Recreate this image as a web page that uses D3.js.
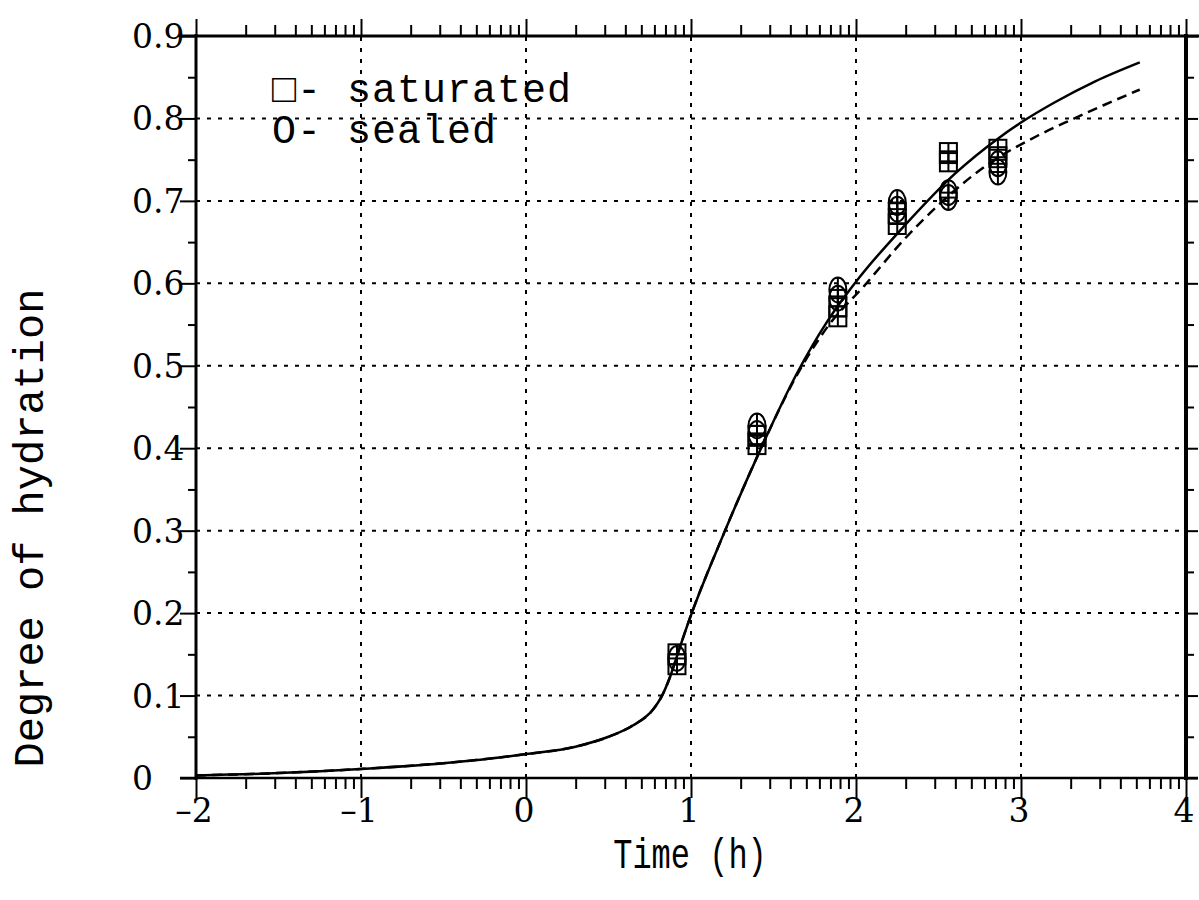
<!DOCTYPE html>
<html>
<head>
<meta charset="utf-8"/>
<title>Degree of hydration</title>
<script src="https://d3js.org/d3.v7.min.js"></script>
<style>
  body { margin: 0; background: #fff; }
  svg { display: block; }
  .num { font-family: "DejaVu Serif", serif; font-size: 33px; fill: #000; }
  .lbl { font-family: "Liberation Mono", monospace; fill: #000; }
  .axis path { display: none; }
  .axis line { stroke: #000; stroke-width: 2; }
</style>
</head>
<body>
<div id="chart"></div>
<script>
// ---- data ----
var xTicks = [-2, -1, 0, 1, 2, 3, 4];
var xTickLabels = ["\u20132", "\u20131", "0", "1", "2", "3", "4"];
var yTicks = [0, 0.1, 0.2, 0.3, 0.4, 0.5, 0.6, 0.7, 0.8, 0.9];
var yTickLabels = ["0", "0.1", "0.2", "0.3", "0.4", "0.5", "0.6", "0.7", "0.8", "0.9"];

// solid curve (model, saturated)
var solidX = [-2.0, -1.5, -1.0, -0.5, 0.0, 0.3, 0.5, 0.65, 0.77, 0.82, 0.87, 0.93, 0.99,
              1.2, 1.42, 1.64, 1.83, 2.02, 2.29, 2.6, 2.87, 3.0, 3.2, 3.45, 3.72];
var solidY = [0.003, 0.006, 0.011, 0.018, 0.029, 0.038, 0.050, 0.064, 0.083, 0.098, 0.121, 0.157, 0.192,
              0.297, 0.398, 0.49, 0.555, 0.607, 0.669, 0.733, 0.777, 0.795, 0.819, 0.845, 0.868];
// dashed curve (model, sealed), equal to solid below ~1.6
var dashX = [-2.0, -1.5, -1.0, -0.5, 0.0, 0.3, 0.5, 0.65, 0.77, 0.82, 0.87, 0.93, 0.99,
             1.2, 1.42, 1.64, 1.83, 2.05, 2.3, 2.5, 2.79, 3.1, 3.3, 3.5, 3.72];
var dashY = [0.003, 0.006, 0.011, 0.018, 0.029, 0.038, 0.050, 0.064, 0.083, 0.098, 0.121, 0.157, 0.192,
             0.297, 0.398, 0.488, 0.548, 0.597, 0.655, 0.695, 0.743, 0.779, 0.798, 0.816, 0.835];

// measured points
var satX = [0.915, 0.915, 1.40, 1.40, 1.89, 1.89, 2.25, 2.25, 2.56, 2.56, 2.86, 2.86];
var satY = [0.138, 0.150, 0.405, 0.415, 0.560, 0.572, 0.672, 0.685, 0.748, 0.758, 0.753, 0.762];
var sealX = [0.915, 1.40, 1.40, 1.89, 1.89, 2.25, 2.25, 2.56, 2.56, 2.86, 2.86];
var sealY = [0.145, 0.418, 0.427, 0.582, 0.592, 0.690, 0.698, 0.704, 0.710, 0.735, 0.745];

var legendLabels = ["\u25A1- saturated", "O- sealed"];

// ---- drawing ----
var W = 1199, H = 900;
var svg = d3.select("#chart").append("svg").attr("width", W).attr("height", H);

var x = d3.scaleLinear().domain([-2, 4]).range([196, 1186]);
var y = d3.scaleLinear().domain([0, 0.9]).range([778, 36]);

// log minor ticks inside every decade
var xMinor = [];
for (var n = -2; n < 4; n++) {
  for (var k = 2; k <= 9; k++) xMinor.push(n + Math.log10(k));
}
var yMinor = d3.range(0.05, 0.9, 0.1);

// grid
var grid = svg.append("g").attr("stroke", "#000").attr("stroke-width", 2)
  .attr("stroke-dasharray", "4,7");
grid.selectAll(".gx").data(xTicks.slice(1, -1)).enter().append("line")
  .attr("x1", d => x(d)).attr("x2", d => x(d))
  .attr("y1", y(0)).attr("y2", y(0.9));
grid.selectAll(".gy").data(yTicks.slice(1, -1)).enter().append("line")
  .attr("x1", x(-2)).attr("x2", x(4))
  .attr("y1", d => y(d)).attr("y2", d => y(d));

// ticks via axes
function ticks(axisFn, scale, vals, size, tr) {
  svg.append("g").attr("class", "axis").attr("transform", tr)
    .call(axisFn(scale).tickValues(vals).tickSize(size).tickFormat(""));
}
ticks(d3.axisBottom, x, xTicks, 20, "translate(0," + y(0) + ")");
ticks(d3.axisBottom, x, xMinor, 11, "translate(0," + y(0) + ")");
ticks(d3.axisTop, x, xTicks, 17, "translate(0," + y(0.9) + ")");
ticks(d3.axisTop, x, xMinor, 11, "translate(0," + y(0.9) + ")");
ticks(d3.axisLeft, y, yTicks, 16, "translate(" + x(-2) + ",0)");
ticks(d3.axisLeft, y, yMinor, 8, "translate(" + x(-2) + ",0)");
ticks(d3.axisRight, y, yTicks, 12, "translate(" + x(4) + ",0)");
ticks(d3.axisRight, y, yMinor, 8, "translate(" + x(4) + ",0)");

// frame
svg.append("line").attr("x1", x(-2)).attr("x2", x(-2)).attr("y1", y(0.9) - 2).attr("y2", y(0) + 2)
  .attr("stroke", "#000").attr("stroke-width", 3);
svg.append("line").attr("x1", x(4)).attr("x2", x(4)).attr("y1", y(0.9) - 2).attr("y2", y(0) + 2)
  .attr("stroke", "#000").attr("stroke-width", 4);
svg.append("line").attr("x1", x(-2) - 16).attr("x2", W).attr("y1", y(0.9)).attr("y2", y(0.9))
  .attr("stroke", "#000").attr("stroke-width", 3);
svg.append("line").attr("x1", x(-2) - 16).attr("x2", x(4) + 12).attr("y1", y(0)).attr("y2", y(0))
  .attr("stroke", "#000").attr("stroke-width", 2.5);

// tick labels
svg.selectAll(".xl").data(xTicks).enter().append("text").attr("class", "num")
  .attr("x", d => x(d) - 2).attr("y", 822).attr("text-anchor", "middle")
  .text((d, i) => xTickLabels[i]);
svg.selectAll(".yl").data(yTicks).enter().append("text").attr("class", "num")
  .attr("x", 132).attr("y", d => y(d) + 12).attr("text-anchor", "start")
  .text((d, i) => yTickLabels[i]);

// axis titles
svg.append("text").attr("class", "lbl").attr("font-size", 32)
  .attr("text-anchor", "middle")
  .attr("transform", "translate(690,868) scale(1,1.35)")
  .text("Time (h)");
svg.append("text").attr("class", "lbl").attr("font-size", 42)
  .attr("text-anchor", "middle")
  .attr("transform", "translate(43,528) rotate(-90)")
  .text("Degree of hydration");

// curves
var line = d3.line().curve(d3.curveMonotoneX);
svg.append("path").attr("fill", "none").attr("stroke", "#000").attr("stroke-width", 2.5)
  .attr("d", line(solidX.map((v, i) => [x(v), y(solidY[i])])));
svg.append("path").attr("fill", "none").attr("stroke", "#000").attr("stroke-width", 2.5)
  .attr("stroke-dasharray", "10,6")
  .attr("d", line(dashX.map((v, i) => [x(v), y(dashY[i])])));

// markers: square / ellipse with a plus inside
var mk = svg.append("g").attr("fill", "none").attr("stroke", "#000").attr("stroke-width", 2);
satX.forEach(function (v, i) {
  var g = mk.append("g").attr("transform", "translate(" + x(v) + "," + y(satY[i]) + ")");
  g.append("rect").attr("x", -8.5).attr("y", -10).attr("width", 17).attr("height", 20);
  g.append("line").attr("x1", -8.5).attr("x2", 8.5).attr("y1", 0).attr("y2", 0);
  g.append("line").attr("x1", 0).attr("x2", 0).attr("y1", -10).attr("y2", 10);
});
sealX.forEach(function (v, i) {
  var g = mk.append("g").attr("transform", "translate(" + x(v) + "," + y(sealY[i]) + ")");
  g.append("ellipse").attr("rx", 8.5).attr("ry", 12.5);
  g.append("line").attr("x1", -8.5).attr("x2", 8.5).attr("y1", 0).attr("y2", 0);
  g.append("line").attr("x1", 0).attr("x2", 0).attr("y1", -12.5).attr("y2", 12.5);
});

// legend
svg.selectAll(".lg").data(legendLabels).enter().append("text").attr("class", "lbl")
  .attr("font-size", 40).attr("x", 272).attr("y", (d, i) => 102 + i * 41)
  .attr("letter-spacing", 1)
  .attr("xml:space", "preserve").style("white-space", "pre")
  .text(d => d);
</script>
</body>
</html>
